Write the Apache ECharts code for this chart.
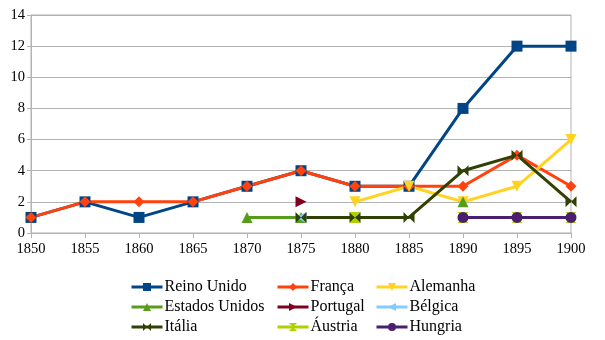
<!DOCTYPE html>
<html>
<head>
<meta charset="utf-8">
<script src="https://cdn.jsdelivr.net/npm/echarts@6/dist/echarts.min.js"></script>
<style>
  html, body { margin: 0; padding: 0; background: #fff; }
  #chart { width: 605px; height: 340px; }
</style>
</head>
<body>
<div id="chart"></div>
<script>
var years = ["1850", "1855", "1860", "1865", "1870", "1875", "1880", "1885", "1890", "1895", "1900"];
var yTicks = [0, 2, 4, 6, 8, 10, 12, 14];

var reinoUnido     = [1, 2, 1, 2, 3, 4, 3, 3, 8, 12, 12];
var franca         = [1, 2, 2, 2, 3, 4, 3, 3, 3, 5, 3];
var alemanha       = [null, null, null, null, null, null, 2, 3, 2, 3, 6];
var estadosUnidos  = [null, null, null, null, 1, 1, null, null, 2, null, null];
var portugal       = [null, null, null, null, null, 2, null, null, null, null, null];
var belgica        = [null, null, null, null, null, 1, null, null, null, null, null];
var italia         = [null, null, null, null, null, 1, 1, 1, 4, 5, 2];
var austria        = [null, null, null, null, null, null, 1, null, 1, 1, 1];
var hungria        = [null, null, null, null, null, null, null, null, 1, 1, 1];

var font = "Liberation Serif";

function mk(name, data, color, symbol, rotate) {
  return {
    name: name,
    type: "line",
    data: data,
    symbol: symbol,
    symbolSize: 11,
    symbolRotate: rotate || 0,
    showAllSymbol: true,
    lineStyle: { color: color, width: 3 },
    itemStyle: { color: color },
    emphasis: { disabled: true }
  };
}

var bowtie = "path://M0,0L10,5L0,10Z M20,0L10,5L20,10Z";
var hourglass = "path://M0,0L10,0L5,5Z M0,10L10,10L5,5Z";

var series = [
  mk("Reino Unido", reinoUnido, "#004586", "rect"),
  mk("França", franca, "#ff420e", "diamond"),
  mk("Alemanha", alemanha, "#ffd320", "triangle", 180),
  mk("Estados Unidos", estadosUnidos, "#579d1c", "triangle"),
  mk("Portugal", portugal, "#7e0021", "triangle", -90),
  mk("Bélgica", belgica, "#83caff", "triangle", 90),
  mk("Itália", italia, "#314004", bowtie),
  mk("Áustria", austria, "#aecf00", hourglass),
  mk("Hungria", hungria, "#4b1f6f", "circle")
];

function legendCol(left, names) {
  return {
    orient: "vertical",
    left: left,
    top: 274,
    itemGap: 4,
    itemWidth: 31,
    itemHeight: 10,
    lineStyle: { width: 3 },
    data: names,
    textStyle: { fontFamily: font, fontSize: 16, lineHeight: 16, color: "#000", padding: [0, 0, 0, -3] }
  };
}

var myChart = echarts.init(document.getElementById("chart"));
var option = {
  animation: false,
  legend: [
    legendCol(125, ["Reino Unido", "Estados Unidos", "Itália"]),
    legendCol(271, ["França", "Portugal", "Áustria"]),
    legendCol(370, ["Alemanha", "Bélgica", "Hungria"])
  ],
  grid: {
    left: 31,
    right: 34,
    top: 15,
    bottom: 107,
    show: true,
    borderColor: "#b3b3b3",
    borderWidth: 1
  },
  xAxis: {
    type: "category",
    data: years,
    boundaryGap: false,
    axisLine: { lineStyle: { color: "#b3b3b3" } },
    axisTick: { show: true, length: 5, lineStyle: { color: "#b3b3b3" } },
    axisLabel: { fontFamily: font, fontSize: 14.5, color: "#000", margin: 9 }
  },
  yAxis: {
    type: "value",
    min: yTicks[0],
    max: yTicks[yTicks.length - 1],
    interval: 2,
    axisLine: { show: true, lineStyle: { color: "#b3b3b3" } },
    axisTick: { show: true, length: 4, lineStyle: { color: "#b3b3b3" } },
    splitLine: { lineStyle: { color: "#b3b3b3" } },
    axisLabel: { fontFamily: font, fontSize: 14.5, color: "#000", margin: 6 }
  },
  series: series
};
myChart.setOption(option);
</script>
</body>
</html>
